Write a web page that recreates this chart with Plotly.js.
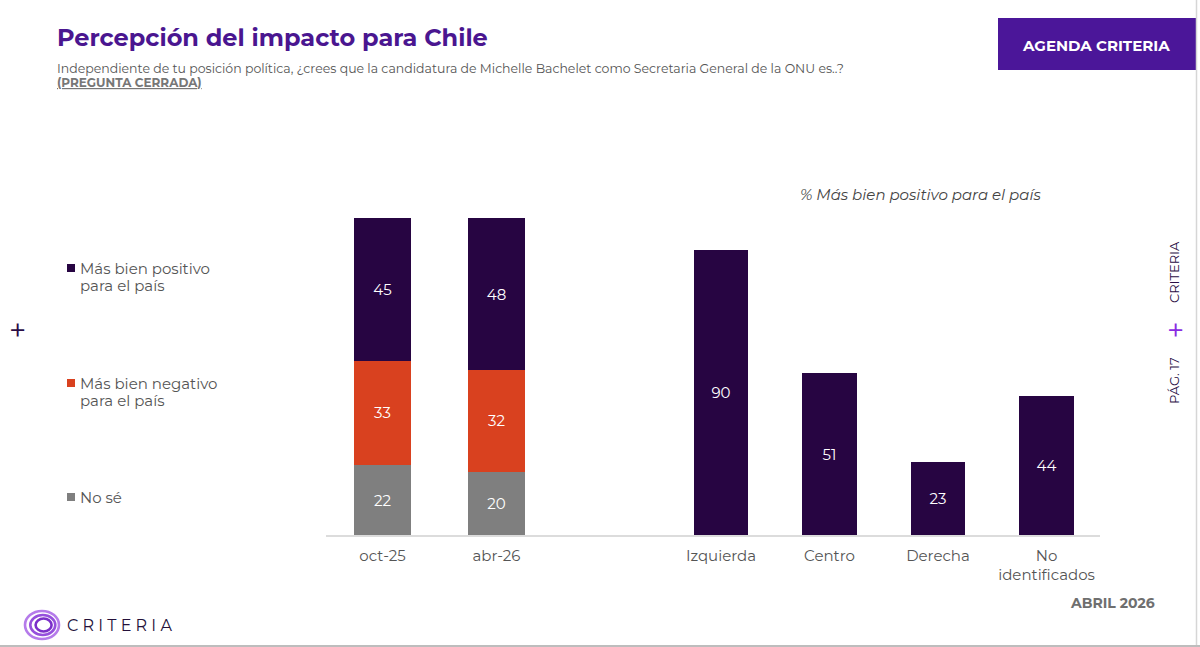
<!DOCTYPE html>
<html>
<head>
<meta charset="utf-8">
<script src="https://cdn.plot.ly/plotly-3.0.1.min.js"></script>
<style>
  html, body { margin: 0; padding: 0; background: #ffffff; }
  #chart { width: 1200px; height: 647px; }
</style>
</head>
<body>
<div id="chart"></div>
<script>
// Evolución: encuesta de octubre 2025 vs abril 2026
const periodos = ['oct-25', 'abr-26'];
const positivo = [45, 48];
const negativo = [33, 32];
const noSe = [22, 20];

// % Más bien positivo según posición política
const posiciones = ['Izquierda', 'Centro', 'Derecha', 'No<br>identificados'];
const positivoPorPosicion = [90, 51, 23, 44];

const leyenda = [['Más bien positivo', 'para el país'], ['Más bien negativo', 'para el país'], ['No sé']];

const COL_POS = '#270542';
const COL_NEG = '#D9411F';
const COL_NS = '#7F7F7F';
const FONT = 'Montserrat, "Open Sans", "Noto Sans", sans-serif';

const W = 1200, H = 647;
const PLOT_TOP = 218, PLOT_BOTTOM = 535;
// page pixel -> paper fraction (paper spans the plot area)
const px = v => v / W;
const py = v => (PLOT_BOTTOM - v) / (PLOT_BOTTOM - PLOT_TOP);

const barText = {family: FONT, size: 15, color: '#ffffff'};

function stacked(name, vals, color) {
  return {
    type: 'bar', x: periodos, y: vals, name: name,
    xaxis: 'x', yaxis: 'y',
    marker: {color: color, line: {width: 0}},
    text: vals.map(String), textposition: 'inside', insidetextanchor: 'middle',
    textfont: barText, constraintext: 'none',
    hoverinfo: 'x+y+name', showlegend: false
  };
}

const traces = [
  stacked('No sé', noSe, COL_NS),
  stacked('Más bien negativo para el país', negativo, COL_NEG),
  stacked('Más bien positivo para el país', positivo, COL_POS),
  {
    type: 'bar', x: posiciones, y: positivoPorPosicion, name: '% Más bien positivo',
    xaxis: 'x2', yaxis: 'y',
    marker: {color: COL_POS, line: {width: 0}},
    text: positivoPorPosicion.map(String), textposition: 'inside', insidetextanchor: 'middle',
    textfont: barText, constraintext: 'none',
    hoverinfo: 'x+y', showlegend: false
  }
];

const tickFont = {family: FONT, size: 15, color: '#555555'};
const axisCommon = {
  type: 'category', showgrid: false, zeroline: false,
  showline: true, linecolor: '#dcdcdc', linewidth: 1.5,
  ticks: '', tickfont: tickFont, ticklabelstandoff: 6, fixedrange: true
};

const annotations = [];
// Title block
annotations.push({
  text: '<b>Percepción del impacto para Chile</b>', xref: 'paper', yref: 'paper',
  x: px(55), y: py(37), xanchor: 'left', yanchor: 'middle', showarrow: false,
  font: {family: FONT, size: 24, color: '#4A1690'}
});
annotations.push({
  text: 'Independiente de tu posición política, ¿crees que la candidatura de Michelle Bachelet como Secretaria General de la ONU es..?',
  xref: 'paper', yref: 'paper', x: px(55), y: py(68), xanchor: 'left', yanchor: 'middle', showarrow: false,
  font: {family: FONT, size: 12.5, color: '#555555'}
});
annotations.push({
  text: '<b><u>(PREGUNTA CERRADA)</u></b>', xref: 'paper', yref: 'paper',
  x: px(55), y: py(82), xanchor: 'left', yanchor: 'middle', showarrow: false,
  font: {family: FONT, size: 12, color: '#777777'}
});
// Header badge
annotations.push({
  text: '<b>AGENDA CRITERIA</b>', xref: 'paper', yref: 'paper',
  x: px(1096), y: py(45), xanchor: 'center', yanchor: 'middle', showarrow: false,
  font: {family: FONT, size: 15, color: '#ffffff'}
});
// Right panel subtitle
annotations.push({
  text: '<i>% Más bien positivo para el país</i>', xref: 'paper', yref: 'paper',
  x: px(920), y: py(194), xanchor: 'center', yanchor: 'middle', showarrow: false,
  font: {family: FONT, size: 15, color: '#444444'}
});
// Legend labels, one annotation per line
const legendY = [268, 383, 497];
const legendC = [COL_POS, COL_NEG, COL_NS];
leyenda.forEach((lines, i) => {
  lines.forEach((t, j) => {
    annotations.push({
      text: t, xref: 'paper', yref: 'paper', x: px(78), y: py(legendY[i] + j * 17.5),
      xanchor: 'left', yanchor: 'middle', showarrow: false, align: 'left',
      font: {family: FONT, size: 15, color: '#555555'}
    });
  });
});
// Decorative markers and side labels
annotations.push({
  text: '+', xref: 'paper', yref: 'paper', x: px(17), y: py(330), xanchor: 'center', yanchor: 'middle',
  showarrow: false, font: {family: FONT, size: 30, color: '#2a0d45'}
});
annotations.push({
  text: 'CRITERIA', xref: 'paper', yref: 'paper', x: px(1174), y: py(272), xanchor: 'center', yanchor: 'middle',
  textangle: -90, showarrow: false, font: {family: FONT, size: 13, color: '#2a0d45'}
});
annotations.push({
  text: '+', xref: 'paper', yref: 'paper', x: px(1175), y: py(330), xanchor: 'center', yanchor: 'middle',
  showarrow: false, font: {family: FONT, size: 30, color: '#8A2BE2'}
});
annotations.push({
  text: 'PÁG. 17', xref: 'paper', yref: 'paper', x: px(1174), y: py(381), xanchor: 'center', yanchor: 'middle',
  textangle: -90, showarrow: false, font: {family: FONT, size: 13, color: '#2a0d45'}
});
// Footer
annotations.push({
  text: '<b>ABRIL 2026</b>', xref: 'paper', yref: 'paper', x: px(1157), y: py(603), xanchor: 'right', yanchor: 'middle',
  showarrow: false, font: {family: FONT, size: 14, color: '#6f6f6f'}
});
annotations.push({
  text: 'C R I T E R I A', xref: 'paper', yref: 'paper', x: px(65), y: py(625), xanchor: 'left', yanchor: 'middle',
  showarrow: false, font: {family: FONT, size: 16, color: '#24103a'}
});

const shapes = [];
// Badge background
shapes.push({type: 'rect', xref: 'paper', yref: 'paper', x0: px(998), x1: px(1196), y0: py(18), y1: py(70),
  fillcolor: '#4B1699', line: {width: 0}, layer: 'below'});
// Legend swatches
legendY.forEach((y, i) => {
  shapes.push({type: 'rect', xref: 'paper', yref: 'paper', x0: px(67), x1: px(75), y0: py(y - 4), y1: py(y + 4),
    fillcolor: legendC[i], line: {width: 0}});
});
// Logo rings
[[17, 14, '#B57BEA'], [12.5, 10, '#9650DC'], [8, 6.5, '#7B2FC9']].forEach(([rx, ry, c], i) => {
  shapes.push({type: 'circle', xref: 'paper', yref: 'paper',
    x0: px(42 - rx + i * 0.8), x1: px(42 + rx + i * 0.8), y0: py(625 - ry), y1: py(625 + ry),
    line: {color: c, width: 2.6}, fillcolor: 'rgba(0,0,0,0)'});
});
// Page frame edges
shapes.push({type: 'line', xref: 'paper', yref: 'paper', x0: px(1196.5), x1: px(1196.5), y0: py(0), y1: py(647),
  line: {color: '#d6d6d6', width: 1.5}});
shapes.push({type: 'line', xref: 'paper', yref: 'paper', x0: 0, x1: 1, y0: py(646), y1: py(646),
  line: {color: '#bdbdbd', width: 2}});

const layout = {
  width: W, height: H,
  margin: {l: 0, r: 0, t: PLOT_TOP, b: H - PLOT_BOTTOM, pad: 0},
  paper_bgcolor: '#ffffff', plot_bgcolor: 'rgba(0,0,0,0)',
  barmode: 'stack', bargap: 0.5,
  showlegend: false,
  font: {family: FONT},
  xaxis: Object.assign({}, axisCommon, {domain: [px(325.5), px(610)], range: [-0.5, 1.996], anchor: 'y'}),
  xaxis2: Object.assign({}, axisCommon, {domain: [px(610), px(1100)], range: [-1.023, 3.493], anchor: 'y'}),
  yaxis: {range: [0, 100], domain: [0, 1], visible: false, fixedrange: true},
  annotations: annotations,
  shapes: shapes
};

Plotly.newPlot('chart', traces, layout, {displayModeBar: false, staticPlot: true});
</script>
</body>
</html>
